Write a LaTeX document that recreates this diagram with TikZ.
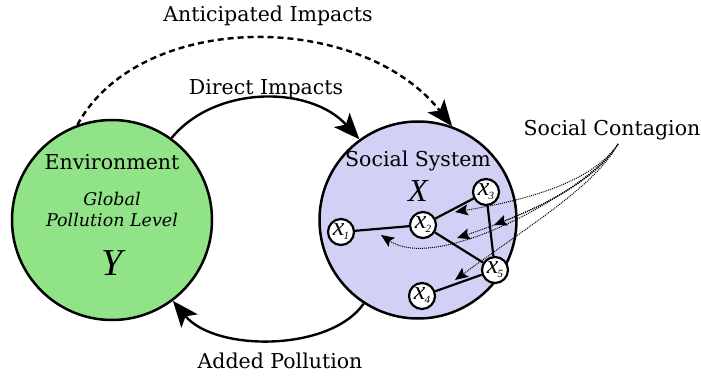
\documentclass[tikz,border=0pt]{standalone}
\usepackage{fontspec}
\setmainfont{DejaVu Serif}
\newfontfamily\varfont{Liberation Serif}
\usetikzlibrary{arrows.meta}
\definecolor{envgreen}{RGB}{144,228,135}
\definecolor{socblue}{RGB}{208,209,245}
\newcommand{\agentlbl}[1]{{\varfont\itshape\fontsize{26}{26}\selectfont x}\kern-1pt\raisebox{-4pt}{\varfont\itshape\fontsize{11}{11}\selectfont #1}}
\begin{document}
\begin{tikzpicture}[x=1pt,y=-1pt,
  bigcirc/.style={circle,draw,line width=2.5pt,minimum size=200pt,inner sep=0pt},
  agent/.style={circle,draw,fill=white,line width=2.2pt,minimum size=26pt,inner sep=0pt},
  link/.style={line width=2.2pt},
  bigarrow/.style={line width=2.4pt,-{Stealth[length=26pt,width=21pt,inset=6pt]}},
  contagion/.style={densely dotted,line width=1pt,-{Stealth[length=13pt,width=11pt,inset=2.5pt]}},
  lbl/.style={font=\fontsize{20.5}{22}\selectfont},
]
\useasboundingbox (0,0) rectangle (701,379);
\node[bigcirc,fill=envgreen] (env) at (112,220) {};
\node[bigcirc,fill=socblue,minimum size=197pt] (soc) at (418,220) {};
\node[lbl] (envt) at (112,162) {Environment};
\node[font=\fontsize{17.5}{21}\selectfont\itshape,align=center] (glob) at (112,209) {Global\\Pollution Level};
\node[font=\varfont\itshape\fontsize{38}{38}\selectfont] (ylab) at (112,263) {Y};
\node[lbl] (soct) at (418,161) {Social System};
\node[font=\varfont\itshape\fontsize{32}{32}\selectfont] (xlab) at (418,191) {X};

\node[agent] (x1) at (341,232) {\agentlbl{1}};
\node[agent] (x2) at (423,225) {\agentlbl{2}};
\node[agent] (x3) at (486,192) {\agentlbl{3}};
\node[agent] (x5) at (495,270) {\agentlbl{5}};
\node[agent] (x4) at (422,296) {\agentlbl{4}};
\draw[link] (x1) -- (x2);
\draw[link] (x2) -- (x3);
\draw[link] (x2) -- (x5);
\draw[link] (x3) -- (x5);
\draw[link] (x4) -- (x5);

\node[lbl] (anti) at (268,16) {Anticipated Impacts};
\node[lbl] (dir) at (266,89) {Direct Impacts};
\node[lbl] (add) at (280,361) {Added Pollution};
\node[lbl] (sc) at (612,130) {Social Contagion};

\draw[bigarrow] (env.54) .. controls (215,85) and (310,85) .. (soc.126);
\draw[bigarrow,dash pattern=on 6pt off 4pt] (env.110) .. controls (140,10) and (360,10) .. (soc.70);
\draw[bigarrow] (soc.-123) .. controls (330,352) and (215,352) .. (env.-53);

\coordinate (c0) at (618,144);
\coordinate (t1) at (455,212);
\coordinate (t2) at (494,225);
\coordinate (t3) at (457,238);
\coordinate (t4) at (381,235);
\coordinate (t5) at (455,280);
\draw[contagion] (c0) .. controls (595,178) and (540,198) .. (t1);
\draw[contagion] (c0) .. controls (595,180) and (545,205) .. (t2);
\draw[contagion] (c0) .. controls (595,182) and (535,212) .. (t3);
\draw[contagion] (c0) .. controls (595,185) and (440,275) .. (t4);
\draw[contagion] (c0) .. controls (595,186) and (530,225) .. (t5);
\end{tikzpicture}
\end{document}
